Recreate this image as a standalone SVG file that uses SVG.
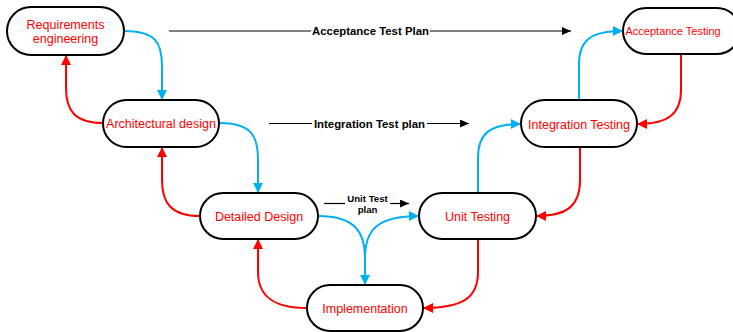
<svg xmlns="http://www.w3.org/2000/svg" width="733" height="332" viewBox="0 0 733 332">
  <style>
    .node rect { fill: #ffffff; stroke: #000000; stroke-width: 2; }
    .label { font-family: "Liberation Sans", Arial, sans-serif; font-size: 12.5px; fill: #ff0000; text-anchor: middle; }
    .plan { font-family: "Liberation Sans", Arial, sans-serif; font-size: 11.4px; font-weight: bold; fill: #000000; text-anchor: middle; }
    .fwd { fill: none; stroke: #00b0f0; stroke-width: 2; marker-end: url(#arrowBlue); }
    .back { fill: none; stroke: #ff0000; stroke-width: 2; marker-end: url(#arrowRed); }
    .planline { fill: none; stroke: #000000; stroke-width: 1.2; }
    .planarrow { fill: none; stroke: #000000; stroke-width: 1.2; marker-end: url(#arrowBlack); }
  </style>
  <defs>
    <marker id="arrowBlue" markerUnits="userSpaceOnUse" markerWidth="10" markerHeight="10" viewBox="0 0 10 10" refX="10" refY="5" orient="auto">
      <path d="M0,0 L10,5 L0,10 Z" fill="#00b0f0"/>
    </marker>
    <marker id="arrowRed" markerUnits="userSpaceOnUse" markerWidth="10" markerHeight="10" viewBox="0 0 10 10" refX="10" refY="5" orient="auto">
      <path d="M0,0 L10,5 L0,10 Z" fill="#ff0000"/>
    </marker>
    <marker id="arrowBlack" markerUnits="userSpaceOnUse" markerWidth="9" markerHeight="8" viewBox="0 0 9 8" refX="9" refY="4" orient="auto">
      <path d="M0,0 L9,4 L0,8 Z" fill="#000000"/>
    </marker>
  </defs>

  <!-- process flow connectors -->
  <g id="connectors">
    <!-- forward (down the left side, up the right side) -->
    <path class="fwd" d="M124,31 C155,31 162,42 162,66 L162,100"/>
    <path class="fwd" d="M219,123 C251,123 258,135 258,160 L258,193"/>
    <path class="fwd" d="M318,216 C355,216 365,232 365,258 L365,285"/>
    <path class="fwd" d="M365,285 L365,258 C365,230 377,216 419,216"/>
    <path class="fwd" d="M478,193 L478,158 C478,133 490,124 521,124"/>
    <path class="fwd" d="M579,100 L579,64 C579,40 591,31 623,31"/>
    <!-- feedback -->
    <path class="back" d="M103,123 C76,123 66,112 66,88 L66,55"/>
    <path class="back" d="M200,216 C172,216 162,204 162,180 L162,147"/>
    <path class="back" d="M307,308 C276,308 258,298 258,272 L258,239"/>
    <path class="back" d="M478,239 L478,272 C478,297 464,308 423,308"/>
    <path class="back" d="M580,147 L580,180 C580,205 568,216 536,216"/>
    <path class="back" d="M681,54 L681,90 C681,114 668,124 637,124"/>
    <!-- test plans -->
    <path class="planline" d="M169,31 L311,31"/>
    <path class="planarrow" d="M430,31 L571,31"/>
    <path class="planline" d="M269,123.5 L312,123.5"/>
    <path class="planarrow" d="M427,123.5 L469,123.5"/>
    <path class="planline" d="M324,203.5 L345,203.5"/>
    <path class="planarrow" d="M390,203.5 L409,203.5"/>
  </g>

  <g id="plan-labels">
    <text class="plan" x="370.5" y="35">Acceptance Test Plan</text>
    <text class="plan" x="369.5" y="127.5">Integration Test plan</text>
    <text class="plan" style="font-size:9.6px" x="367.5" y="201.5">Unit Test</text>
    <text class="plan" style="font-size:9.6px" x="367.5" y="212.5">plan</text>
  </g>

  <g id="requirements" class="node">
    <rect x="7" y="7" width="117" height="48" rx="24"/>
    <text class="label" x="65.5" y="28.5">Requirements</text>
    <text class="label" x="65.5" y="42.5">engineering</text>
  </g>
  <g id="architectural" class="node">
    <rect x="103" y="100" width="116" height="47" rx="23.5"/>
    <text class="label" x="161" y="128">Architectural design</text>
  </g>
  <g id="detailed" class="node">
    <rect x="200" y="193" width="118" height="46" rx="23"/>
    <text class="label" x="259" y="220.5">Detailed Design</text>
  </g>
  <g id="implementation" class="node">
    <rect x="307" y="285" width="116" height="46" rx="23"/>
    <text class="label" x="365" y="312.5">Implementation</text>
  </g>
  <g id="unit-testing" class="node">
    <rect x="419" y="193" width="117" height="46" rx="23"/>
    <text class="label" x="477.5" y="220.5">Unit Testing</text>
  </g>
  <g id="integration-testing" class="node">
    <rect x="521" y="100" width="116" height="47" rx="23.5"/>
    <text class="label" x="579" y="128.5">Integration Testing</text>
  </g>
  <g id="acceptance-testing" class="node">
    <rect x="623" y="8" width="117" height="46" rx="23"/>
    <text class="label" style="font-size:11px; text-anchor:start" x="625.5" y="35">Acceptance Testing</text>
  </g>
</svg>
